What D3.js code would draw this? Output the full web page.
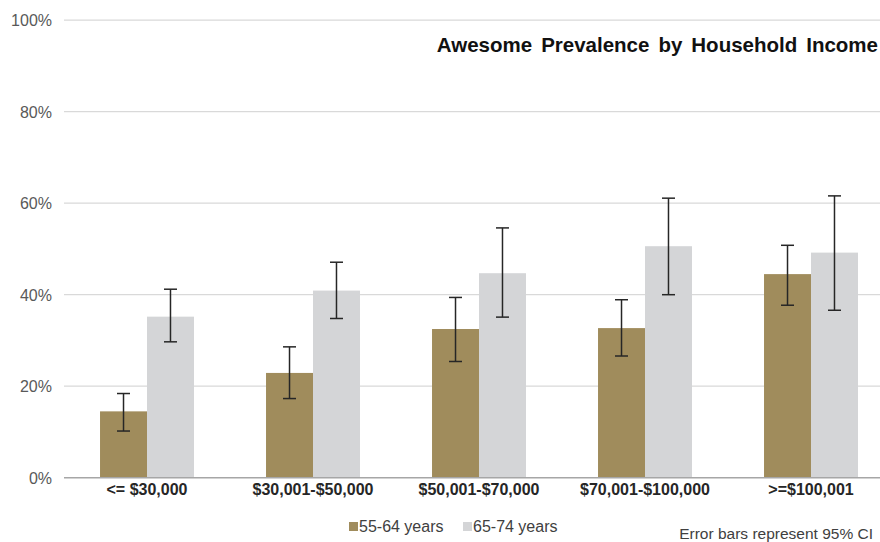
<!DOCTYPE html>
<html>
<head>
<meta charset="utf-8">
<script src="https://cdn.jsdelivr.net/npm/d3@7"></script>
<style>
  html, body { margin: 0; padding: 0; background: #fff; }
  svg { display: block; font-family: "Liberation Sans", Arial, sans-serif; }
</style>
</head>
<body>
<svg id="chart" width="880" height="542"></svg>
<script>
// Income brackets along the x axis
const categories = ["<= $30,000", "$30,001-$50,000", "$50,001-$70,000", "$70,001-$100,000", ">=$100,001"];
// Age groups (one bar each per bracket)
const seriesNames = ["55-64 years", "65-74 years"];
const seriesColors = ["#A08C5C", "#D4D5D7"];
// Prevalence (%) per bracket
const values5564 = [14.5, 22.9, 32.5, 32.7, 44.5];
const values6574 = [35.2, 40.9, 44.7, 50.6, 49.2];
// 95% CI bounds (%)
const lower5564 = [10.2, 17.3, 25.4, 26.6, 37.7];
const upper5564 = [18.4, 28.6, 39.4, 38.9, 50.8];
const lower6574 = [29.7, 34.8, 35.1, 40.0, 36.6];
const upper6574 = [41.2, 47.1, 54.6, 61.1, 61.6];
// Y axis ticks (%)
const yTicks = [0, 20, 40, 60, 80, 100];

const title = "Awesome Prevalence by Household Income";
const note = "Error bars represent 95% CI";

const seriesData = [
  { name: seriesNames[0], color: seriesColors[0], values: values5564, lo: lower5564, hi: upper5564 },
  { name: seriesNames[1], color: seriesColors[1], values: values6574, lo: lower6574, hi: upper6574 }
];

const svg = d3.select("#chart");
const plotLeft = 64, plotRight = 880, bandRight = 894;
const yBottom = 477.7, yTop = 20.2;

const x = d3.scaleBand().domain(categories).range([plotLeft, bandRight])
  .paddingInner(0.434).paddingOuter(0.217);
const xs = d3.scaleBand().domain(seriesNames).range([0, x.bandwidth()]).padding(0);
const y = d3.scaleLinear().domain([0, 100]).range([yBottom, yTop]);

// Gridlines
svg.append("g").selectAll("line").data(yTicks.filter(d => d > 0)).join("line")
  .attr("x1", plotLeft).attr("x2", plotRight)
  .attr("y1", d => y(d)).attr("y2", d => y(d))
  .attr("stroke", "#D9D9D9").attr("stroke-width", 1.2);

// Y tick labels
const yAxis = d3.axisLeft(y).tickValues(yTicks).tickFormat(d => d + "%").tickSize(0).tickPadding(0);
const gy = svg.append("g").attr("transform", "translate(52,0)").call(yAxis);
gy.select(".domain").remove();
gy.selectAll("text").attr("font-size", 16).attr("fill", "#595959")
  .attr("font-family", "'Liberation Sans', Arial, sans-serif").attr("dy", "0.35em");

// Bars
const groups = svg.append("g").selectAll("g").data(seriesData).join("g")
  .attr("fill", d => d.color);
groups.selectAll("rect").data(s => s.values.map((v, i) => ({ s, v, i }))).join("rect")
  .attr("x", d => x(categories[d.i]) + xs(d.s.name))
  .attr("width", xs.bandwidth())
  .attr("y", d => y(d.v))
  .attr("height", d => y(0) - y(d.v));

// Error bars
const cap = 6.5;
const eb = svg.append("g").attr("stroke", "#262626").attr("stroke-width", 1.5).attr("fill", "none");
seriesData.forEach(s => {
  s.values.forEach((v, i) => {
    const cx = x(categories[i]) + xs(s.name) + xs.bandwidth() / 2;
    eb.append("line").attr("x1", cx).attr("x2", cx).attr("y1", y(s.lo[i])).attr("y2", y(s.hi[i]));
    eb.append("line").attr("x1", cx - cap).attr("x2", cx + cap).attr("y1", y(s.hi[i])).attr("y2", y(s.hi[i]));
    eb.append("line").attr("x1", cx - cap).attr("x2", cx + cap).attr("y1", y(s.lo[i])).attr("y2", y(s.lo[i]));
  });
});

// X axis baseline
svg.append("line").attr("x1", plotLeft).attr("x2", plotRight)
  .attr("y1", y(0)).attr("y2", y(0))
  .attr("stroke", "#A6A6A6").attr("stroke-width", 1.5);

// Category labels
const xAxis = d3.axisBottom(x).tickSize(0).tickPadding(0);
const gx = svg.append("g").call(xAxis);
gx.select(".domain").remove();
gx.selectAll("text").attr("y", 495).attr("dy", 0)
  .attr("font-size", 16).attr("font-weight", "bold").attr("fill", "#262626")
  .attr("font-family", "'Liberation Sans', Arial, sans-serif");

// Title
svg.append("text").attr("x", 878).attr("y", 52.3).attr("text-anchor", "end")
  .attr("font-size", 20.5).attr("font-weight", "bold").attr("fill", "#111")
  .attr("word-spacing", 3.3).text(title);

// Legend
const legend = svg.append("g");
const legendX = [349, 463];
seriesData.forEach((s, i) => {
  legend.append("rect").attr("x", legendX[i]).attr("y", 522).attr("width", 9).attr("height", 9).attr("fill", s.color);
  legend.append("text").attr("x", legendX[i] + 10).attr("y", 532)
    .attr("font-size", 16).attr("fill", "#404040").text(s.name);
});

// Footnote
svg.append("text").attr("x", 873).attr("y", 539).attr("text-anchor", "end")
  .attr("font-size", 15.5).attr("fill", "#404040").text(note);
</script>
</body>
</html>
